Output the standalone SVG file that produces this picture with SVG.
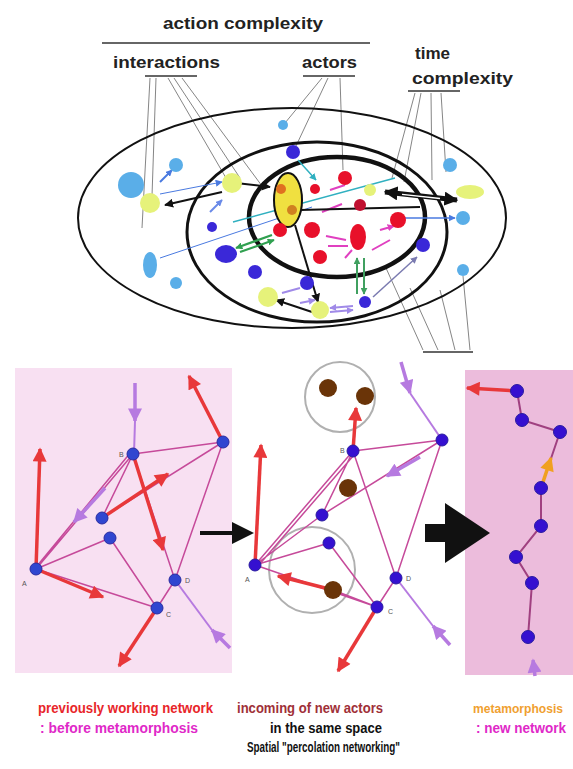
<svg xmlns="http://www.w3.org/2000/svg" width="573" height="769" viewBox="0 0 573 769">
<defs>
<marker id="hk" viewBox="0 0 10 10" refX="9" refY="5" markerWidth="9" markerHeight="9" markerUnits="userSpaceOnUse" orient="auto"><path d="M0,0L10,5L0,10z" fill="#111"/></marker>
<marker id="hkb" viewBox="0 0 10 10" refX="9" refY="5" markerWidth="14" markerHeight="14" markerUnits="userSpaceOnUse" orient="auto-start-reverse"><path d="M0,0L10,5L0,10z" fill="#111"/></marker>
<marker id="hr" viewBox="0 0 10 10" refX="9" refY="5" markerWidth="15" markerHeight="14" markerUnits="userSpaceOnUse" orient="auto"><path d="M0,0L10,5L0,10z" fill="#e8383a"/></marker>
<marker id="hp" viewBox="0 0 10 10" refX="9" refY="5" markerWidth="15" markerHeight="14" markerUnits="userSpaceOnUse" orient="auto"><path d="M0,0L10,5L0,10z" fill="#b67ae0"/></marker>
<marker id="ho" viewBox="0 0 10 10" refX="9" refY="5" markerWidth="15" markerHeight="14" markerUnits="userSpaceOnUse" orient="auto"><path d="M0,0L10,5L0,10z" fill="#f0a020"/></marker>
<marker id="hs" viewBox="0 0 10 10" refX="9" refY="5" markerWidth="7" markerHeight="7" markerUnits="userSpaceOnUse" orient="auto-start-reverse"><path d="M0,0L10,5L0,10z" fill="context-stroke"/></marker>
</defs>
<style>
.t{font-family:"Liberation Sans",Arial,sans-serif;font-weight:bold}
.lead{stroke:#666;stroke-width:0.8;fill:none}
.ul{stroke:#333;stroke-width:1.5}
.lb{fill:#5aaee8}
.yg{fill:#e6f27a}
.bl{fill:#3a28d8}
.rd{fill:#e8102a}
.pe{stroke:#c64a9a;stroke-width:1.5;fill:none}
.ra{stroke:#e8383a;stroke-width:3.5;fill:none}
.pa{stroke:#b67ae0;stroke-width:3.5;fill:none}
.pn{fill:#3046d0;stroke:#2a2ca0;stroke-width:1}
.pn2{fill:#3510d0;stroke:#2a1ca0;stroke-width:1}
.br{fill:#6a3408}
.nl{font-family:"Liberation Sans",Arial,sans-serif;font-size:7px;fill:#555}
.thin{stroke-width:1;fill:none}
</style>
<rect width="573" height="769" fill="#fff"/>

<!-- Top header labels -->
<g id="labels">
<text class="t" x="163" y="29" font-size="17" textLength="160" lengthAdjust="spacingAndGlyphs" fill="#222">action complexity</text>
<line class="ul" x1="102" y1="43" x2="370" y2="43" stroke-width="2"/>
<text class="t" x="113" y="68" font-size="17" textLength="107" lengthAdjust="spacingAndGlyphs" fill="#222">interactions</text>
<line class="ul" x1="145" y1="76" x2="197" y2="76"/>
<text class="t" x="302" y="68" font-size="17" textLength="55" lengthAdjust="spacingAndGlyphs" fill="#222">actors</text>
<line class="ul" x1="303" y1="76" x2="355" y2="76"/>
<text class="t" x="415" y="59" font-size="17" textLength="35" lengthAdjust="spacingAndGlyphs" fill="#222">time</text>
<text class="t" x="412" y="84" font-size="17" textLength="101" lengthAdjust="spacingAndGlyphs" fill="#222">complexity</text>
<line class="ul" x1="408" y1="91" x2="460" y2="91"/>
<line class="ul" x1="423" y1="352" x2="473" y2="352" stroke-width="2"/>
</g>

<!-- leader lines -->
<g id="leaders">
<path class="lead" d="M150,78L142,228M156,78L152,196M168,78L226,178M174,78L240,178M182,78L262,186"/>
<path class="lead" d="M322,78L285,123M328,78L296,146M340,78L343,170"/>
<path class="lead" d="M415,93L392,178M421,93L404,182M431,93L432,180M441,93L446,172"/>
<path class="lead" d="M423,350L386,268M438,350L410,288M455,350L440,290M470,350L463,276"/>
</g>

<!-- ellipses -->
<g id="rings" fill="none" stroke="#111">
<ellipse cx="292" cy="218" rx="214" ry="110" stroke-width="2"/>
<ellipse cx="317" cy="232" rx="130" ry="90" stroke-width="3"/>
<ellipse cx="337" cy="217" rx="88" ry="60" stroke-width="4.5"/>
</g>

<!-- top connectors -->
<g id="top-connectors">
<path d="M160,258L312,207" stroke="#4a7ae0" class="thin"/>
<path d="M233,222L395,178" stroke="#30b0c0" stroke-width="1.3" fill="none"/>
<path d="M160,194L222,182" stroke="#4a7ae0" class="thin" marker-end="url(#hs)"/>
<path d="M160,182L172,170" stroke="#4a7ae0" stroke-width="2" fill="none" marker-end="url(#hs)"/>
<path d="M210,212L222,200" stroke="#6a8ae8" stroke-width="2" fill="none" marker-end="url(#hs)"/>
<path d="M298,160L316,180" stroke="#30b0c0" stroke-width="1.5" fill="none" marker-end="url(#hs)"/>
<path d="M402,218L455,218" stroke="#4a7ae0" stroke-width="1.5" fill="none" marker-end="url(#hs)"/>
<path d="M373,297L417,257" stroke="#7a7ab0" stroke-width="1.5" fill="none" marker-end="url(#hs)"/>
<path d="M330,308L353,306M330,312L353,310" stroke="#a08ae8" stroke-width="2" fill="none" marker-end="url(#hs)" marker-start="url(#hs)"/>
<path d="M282,293L300,288M300,303L315,300" stroke="#a08ae8" stroke-width="2" fill="none" marker-end="url(#hs)"/>
<path d="M236,248L272,235M240,252L274,240" stroke="#30a050" stroke-width="2.2" fill="none" marker-end="url(#hs)" marker-start="url(#hs)"/>
<path d="M357,258L357,294M364,258L364,294" stroke="#40a060" stroke-width="2" fill="none" marker-end="url(#hs)" marker-start="url(#hs)"/>
<path d="M322,212L342,204M326,236L346,240M328,246L348,246M372,250L390,240M330,190L345,185M345,258L352,250M380,230L394,226" stroke="#e040c0" stroke-width="2" fill="none" marker-end="url(#hs)"/>
<path d="M300,210L420,207" stroke="#111" stroke-width="2" fill="none"/>
<path d="M222,192L165,205" stroke="#111" stroke-width="2" fill="none" marker-end="url(#hk)"/>
<path d="M236,183L270,187" stroke="#111" stroke-width="2" fill="none" marker-end="url(#hk)"/>
<path d="M295,225L318,302" stroke="#111" stroke-width="2" fill="none" marker-end="url(#hk)"/>
<path d="M312,312L276,300" stroke="#111" stroke-width="2" fill="none" marker-end="url(#hk)"/>
<path d="M385,192L457,200" stroke="#111" stroke-width="5" fill="none" marker-end="url(#hkb)" marker-start="url(#hkb)"/>
<path d="M402,194.3L440,198.5" stroke="#fff" stroke-width="1.3" fill="none"/>
</g>

<!-- top nodes -->
<g id="top-nodes">
<g id="n-lb1"><circle class="lb" cx="131" cy="185" r="13"/></g>
<g id="n-lb2"><circle class="lb" cx="176" cy="165" r="7"/></g>
<g id="n-lb3"><ellipse class="lb" cx="150" cy="265" rx="7" ry="13"/></g>
<g id="n-lb4"><circle class="lb" cx="176" cy="283" r="6"/></g>
<g id="n-lb5"><circle class="lb" cx="450" cy="165" r="7"/></g>
<g id="n-lb6"><circle class="lb" cx="463" cy="218" r="7"/></g>
<g id="n-lb7"><circle class="lb" cx="463" cy="270" r="6"/></g>
<g id="n-lb8"><circle class="lb" cx="283" cy="125" r="5"/></g>
<g id="n-y1"><circle class="yg" cx="150" cy="203" r="10"/></g>
<g id="n-y2"><circle class="yg" cx="232" cy="183" r="10"/></g>
<g id="n-y3"><circle class="yg" cx="268" cy="297" r="10"/></g>
<g id="n-y4"><circle class="yg" cx="320" cy="310" r="9"/></g>
<g id="n-y5"><ellipse class="yg" cx="470" cy="192" rx="14" ry="7"/></g>
<g id="n-y6"><circle class="yg" cx="370" cy="190" r="6"/></g>
<g id="n-b1"><circle class="bl" cx="212" cy="227" r="5"/></g>
<g id="n-b2"><ellipse class="bl" cx="226" cy="254" rx="11" ry="9"/></g>
<g id="n-b3"><circle class="bl" cx="255" cy="272" r="7"/></g>
<g id="n-b4"><circle class="bl" cx="293" cy="152" r="7"/></g>
<g id="n-b5"><circle class="bl" cx="307" cy="283" r="7"/></g>
<g id="n-b6"><circle class="bl" cx="365" cy="302" r="6"/></g>
<g id="n-b7"><circle class="bl" cx="423" cy="245" r="7"/></g>
<g id="n-yel"><ellipse cx="288" cy="200" rx="14" ry="27" fill="#f0e040" stroke="#111" stroke-width="2"/><circle cx="281" cy="189" r="5" fill="#e07020"/><circle cx="292" cy="210" r="5" fill="#d08020"/></g>
<g id="n-r1"><circle class="rd" cx="280" cy="230" r="7"/></g>
<g id="n-r2"><circle class="rd" cx="312" cy="230" r="8"/></g>
<g id="n-r3"><circle class="rd" cx="320" cy="257" r="7"/></g>
<g id="n-r4"><circle class="rd" cx="315" cy="189" r="5"/></g>
<g id="n-r5"><circle class="rd" cx="345" cy="178" r="7"/></g>
<g id="n-r6"><circle cx="360" cy="205" r="6" fill="#c01030"/></g>
<g id="n-r7"><ellipse class="rd" cx="358" cy="237" rx="8" ry="13"/></g>
<g id="n-r8"><circle class="rd" cx="398" cy="220" r="8"/></g>
</g>

<!-- bottom panels backgrounds -->
<rect x="15" y="368" width="217" height="305" fill="#f8e0f2"/>
<rect x="465" y="370" width="108" height="305" fill="#ecbcdc"/>

<!-- panel 1 connectors -->
<g id="p1-connectors">
<path class="pe" d="M36,569L133,454M37,566L131,452M36,569L110,538M36,569L157,608M133,454L102,518M133,454L223,442M133,454L175,580M223,442L175,580M223,442L102,518M175,580L157,608M157,608L110,538"/>
<path class="ra" d="M36,569L40,449" marker-end="url(#hr)"/>
<path class="pa" d="M135,383L135,421" marker-end="url(#hp)"/>
<path d="M135,421L134,454" stroke="#b67ae0" stroke-width="2" fill="none"/>
<path class="ra" d="M223,442L189,376" marker-end="url(#hr)"/>
<path class="pa" d="M105,488L74,522" marker-end="url(#hp)"/>
<path class="ra" d="M102,518L168,474" marker-end="url(#hr)"/>
<path class="ra" d="M133,454L163,550" marker-end="url(#hr)"/>
<path class="ra" d="M36,569L103,597" marker-end="url(#hr)"/>
<path class="ra" d="M157,608L119,666" marker-end="url(#hr)"/>
<path class="pa" d="M230,648L212,630" marker-end="url(#hp)"/>
<path d="M212,630L175,580" stroke="#b67ae0" stroke-width="2" fill="none"/>
</g>
<g id="p1-nodes">
<g id="p1-A"><circle class="pn" cx="36" cy="569" r="6"/><text class="nl" x="22" y="586">A</text></g>
<g id="p1-B"><circle class="pn" cx="133" cy="454" r="6"/><text class="nl" x="119" y="457">B</text></g>
<g id="p1-C"><circle class="pn" cx="157" cy="608" r="6"/><text class="nl" x="166" y="617">C</text></g>
<g id="p1-D"><circle class="pn" cx="175" cy="580" r="6"/><text class="nl" x="185" y="583">D</text></g>
<g id="p1-E"><circle class="pn" cx="223" cy="442" r="6"/></g>
<g id="p1-F"><circle class="pn" cx="102" cy="518" r="6"/></g>
<g id="p1-G"><circle class="pn" cx="110" cy="538" r="6"/></g>
</g>

<!-- arrow 1 -->
<g id="arrow1"><path d="M200,533L238,533" stroke="#111" stroke-width="4"/><path d="M232,522L254,533L232,544z" fill="#111"/></g>

<!-- panel 2 -->
<g id="p2-circles" fill="none" stroke="#b0b0b0" stroke-width="2">
<circle cx="340" cy="397" r="35"/>
<circle cx="312" cy="570" r="43"/>
</g>
<g id="p2-connectors">
<path class="pe" d="M255,565L353,451M258,566L354,455M255,565L322,515M255,565L329,543M255,565L377,607M353,451L322,515M353,451L442,440M353,451L396,578M442,440L396,578M442,440L322,515M329,543L377,607M377,607L396,578M333,590L377,607"/>
<path class="ra" d="M255,565L261,445" marker-end="url(#hr)"/>
<path class="ra" d="M353,451L356,408" marker-end="url(#hr)"/>
<path class="pa" d="M401,362L410,393" marker-end="url(#hp)"/>
<path d="M410,393L442,440" stroke="#b67ae0" stroke-width="2" fill="none"/>
<path class="pa" d="M420,457L387,476" marker-end="url(#hp)"/>
<path class="ra" d="M333,590L278,576" marker-end="url(#hr)"/>
<path class="ra" d="M377,607L338,671" marker-end="url(#hr)"/>
<path class="pa" d="M450,645L433,626" marker-end="url(#hp)"/>
<path d="M433,626L396,578" stroke="#b67ae0" stroke-width="2" fill="none"/>
</g>
<g id="p2-nodes">
<g id="p2-A"><circle class="pn2" cx="255" cy="565" r="6"/><text class="nl" x="245" y="582">A</text></g>
<g id="p2-B"><circle class="pn2" cx="353" cy="451" r="6"/><text class="nl" x="340" y="453">B</text></g>
<g id="p2-C"><circle class="pn2" cx="377" cy="607" r="6"/><text class="nl" x="388" y="614">C</text></g>
<g id="p2-D"><circle class="pn2" cx="396" cy="578" r="6"/><text class="nl" x="406" y="581">D</text></g>
<g id="p2-E"><circle class="pn2" cx="442" cy="440" r="6"/></g>
<g id="p2-F"><circle class="pn2" cx="322" cy="515" r="6"/></g>
<g id="p2-G"><circle class="pn2" cx="329" cy="543" r="6"/></g>
<g id="p2-n1"><circle class="br" cx="328" cy="388" r="9"/></g>
<g id="p2-n2"><circle class="br" cx="365" cy="396" r="9"/></g>
<g id="p2-n3"><circle class="br" cx="348" cy="488" r="9"/></g>
<g id="p2-n4"><circle class="br" cx="333" cy="590" r="9"/></g>
</g>

<!-- big arrow -->
<g id="arrow2"><path d="M425,524L445,524L445,503L490,533L445,563L445,542L425,542z" fill="#111"/></g>

<!-- panel 3 -->
<g id="p3-connectors">
<path d="M517,391L522,420L560,432L541,488L541,526L516,557L532,583L528,637" stroke="#a04080" stroke-width="2" fill="none"/>
<path class="ra" d="M517,391L467,388" marker-end="url(#hr)"/>
<path d="M541,488L551,458" stroke="#f0a020" stroke-width="3.5" fill="none" marker-end="url(#ho)"/>
<path class="pa" d="M535,676L533,660" marker-end="url(#hp)"/>
</g>
<g id="p3-nodes">
<g id="p3-1"><circle class="pn2" cx="517" cy="391" r="6.5"/></g>
<g id="p3-2"><circle class="pn2" cx="522" cy="420" r="6.5"/></g>
<g id="p3-3"><circle class="pn2" cx="560" cy="432" r="6.5"/></g>
<g id="p3-4"><circle class="pn2" cx="541" cy="488" r="6.5"/></g>
<g id="p3-5"><circle class="pn2" cx="541" cy="526" r="6.5"/></g>
<g id="p3-6"><circle class="pn2" cx="516" cy="557" r="6.5"/></g>
<g id="p3-7"><circle class="pn2" cx="532" cy="583" r="6.5"/></g>
<g id="p3-8"><circle class="pn2" cx="528" cy="637" r="6.5"/></g>
</g>

<!-- captions -->
<g id="captions" class="t" font-size="14">
<text x="38" y="713" textLength="175" lengthAdjust="spacingAndGlyphs" fill="#e8262a">previously working network</text>
<text x="40" y="733" textLength="158" lengthAdjust="spacingAndGlyphs" fill="#e028c8">: before metamorphosis</text>
<text x="237" y="713" textLength="146" lengthAdjust="spacingAndGlyphs" fill="#a03038">incoming of new actors</text>
<text x="270" y="733" textLength="112" lengthAdjust="spacingAndGlyphs" fill="#111">in the same space</text>
<text x="247" y="752" textLength="153" lengthAdjust="spacingAndGlyphs" fill="#111">Spatial "percolation networking"</text>
<text x="473" y="713" font-size="13" textLength="90" lengthAdjust="spacingAndGlyphs" fill="#f0a030">metamorphosis</text>
<text x="476" y="733" textLength="90" lengthAdjust="spacingAndGlyphs" fill="#e028c8">: new network</text>
</g>
</svg>
